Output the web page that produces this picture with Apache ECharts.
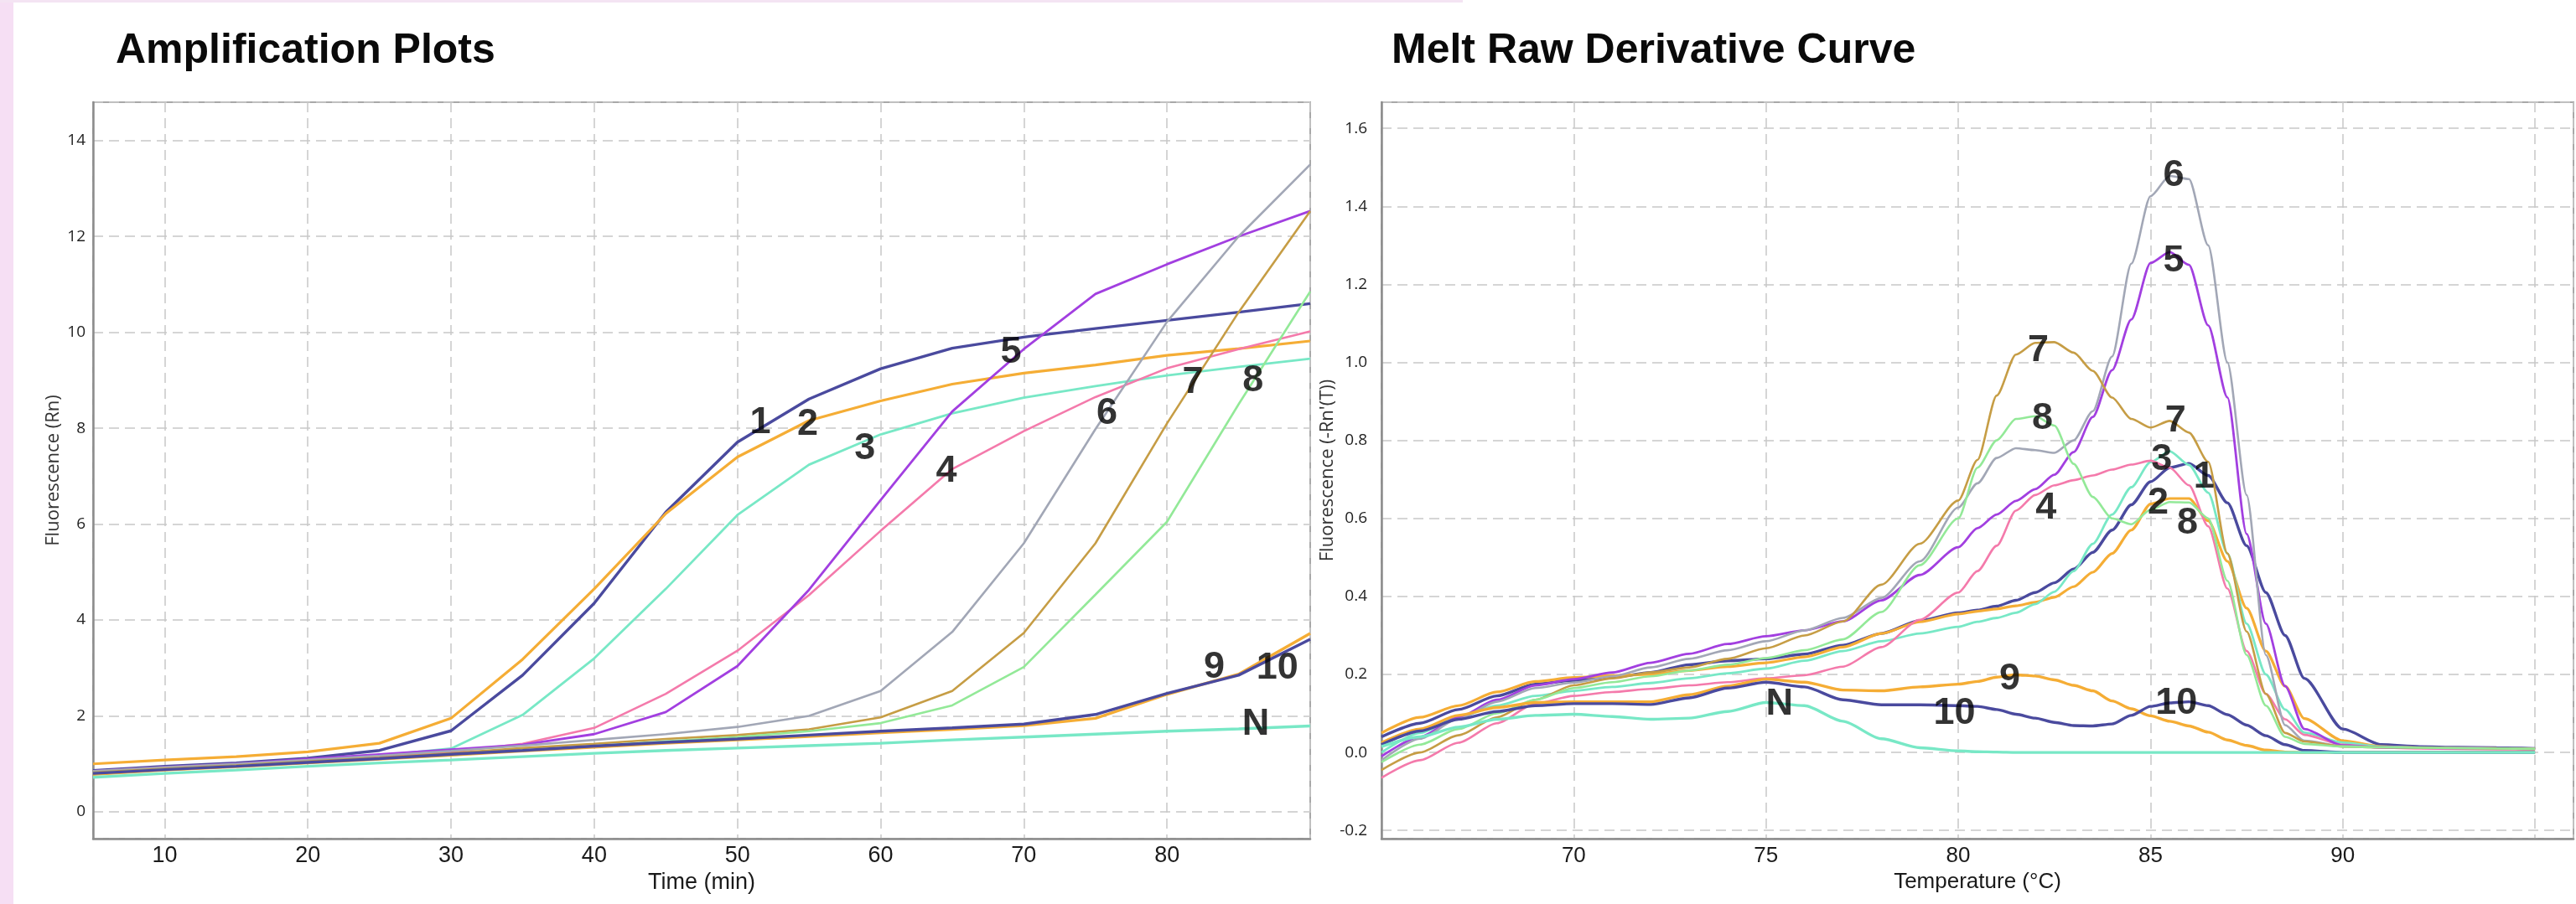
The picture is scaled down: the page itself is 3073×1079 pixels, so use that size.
<!DOCTYPE html>
<html>
<head>
<meta charset="utf-8">
<title>Amplification Plots / Melt Raw Derivative Curve</title>
<script src="https://cdn.jsdelivr.net/npm/echarts@6/dist/echarts.min.js"></script>
<style>
  html, body { margin: 0; padding: 0; background: #fff; }
  #chart { width: 3073px; height: 1079px; }
</style>
</head>
<body>
<div id="chart"></div>
<script>
// ---- amplification plot: time (min) vs fluorescence (Rn) ----
var ampTime = [5, 10, 15, 20, 25, 30, 35, 40, 45, 50, 55, 60, 65, 70, 75, 80, 85, 90];
var amp1  = [0.86, 0.95, 1.02, 1.12, 1.28, 1.69, 2.85, 4.35, 6.25, 7.71, 8.61, 9.24, 9.67, 9.9, 10.08, 10.25, 10.42, 10.6];
var amp2  = [1.0, 1.08, 1.15, 1.25, 1.43, 1.95, 3.18, 4.65, 6.22, 7.4, 8.16, 8.57, 8.92, 9.15, 9.32, 9.52, 9.66, 9.82];
var amp3  = [0.8, 0.9, 0.98, 1.07, 1.17, 1.32, 2.02, 3.2, 4.65, 6.19, 7.24, 7.87, 8.31, 8.64, 8.88, 9.1, 9.28, 9.45];
var amp4  = [0.8, 0.88, 0.96, 1.05, 1.15, 1.25, 1.42, 1.75, 2.46, 3.36, 4.52, 5.86, 7.15, 7.94, 8.65, 9.25, 9.65, 10.02];
var amp5  = [0.85, 0.93, 1.0, 1.1, 1.2, 1.3, 1.4, 1.62, 2.08, 3.04, 4.63, 6.5, 8.35, 9.65, 10.8, 11.42, 12.0, 12.53];
var amp6  = [0.85, 0.93, 1.0, 1.08, 1.17, 1.27, 1.38, 1.5, 1.62, 1.77, 2.0, 2.52, 3.75, 5.6, 7.98, 10.22, 12.0, 13.5];
var amp7  = [0.82, 0.9, 0.97, 1.05, 1.13, 1.22, 1.33, 1.42, 1.52, 1.6, 1.72, 1.97, 2.52, 3.73, 5.6, 8.1, 10.42, 12.53];
var amp8  = [0.8, 0.88, 0.95, 1.03, 1.1, 1.18, 1.28, 1.37, 1.47, 1.56, 1.68, 1.85, 2.22, 3.02, 4.53, 6.05, 8.5, 10.85];
var amp9  = [0.78, 0.87, 0.94, 1.02, 1.1, 1.18, 1.27, 1.35, 1.43, 1.5, 1.57, 1.65, 1.72, 1.8, 1.95, 2.45, 2.87, 3.72];
var amp10 = [0.8, 0.88, 0.95, 1.03, 1.11, 1.2, 1.28, 1.37, 1.45, 1.52, 1.6, 1.68, 1.75, 1.83, 2.03, 2.47, 2.85, 3.6];
var ampN  = [0.72, 0.8, 0.87, 0.95, 1.02, 1.08, 1.15, 1.22, 1.28, 1.33, 1.38, 1.43, 1.5, 1.56, 1.62, 1.68, 1.73, 1.79];

// curve labels on the amplification plot
var ampLabelText = ['1', '2', '3', '4', '5', '6', '7', '8', '9', '10', 'N'];
var ampLabelX = [51.6, 54.9, 58.9, 64.6, 69.1, 75.8, 81.8, 86.0, 83.3, 87.7, 86.2];
var ampLabelY = [8.11, 8.08, 7.57, 7.1, 9.58, 8.31, 8.95, 8.98, 3.02, 3.0, 1.83];

// ---- melt curve: temperature (C) vs -Rn'(T) ----
var meltTemp = [65, 66, 67, 68, 69, 70, 71, 72, 73, 74, 75, 76, 77, 78, 79, 80,
  80.5, 81, 81.5, 82, 82.5, 83, 83.5, 84, 84.5, 85, 85.5, 86, 86.5, 87, 87.5, 88, 88.5, 89,
  90, 91, 92, 93, 94, 95];
var melt1 = [0.04, 0.075, 0.11, 0.145, 0.175, 0.185, 0.192, 0.205, 0.225, 0.235, 0.24, 0.252, 0.275, 0.305, 0.338, 0.358,
  0.365, 0.375, 0.39, 0.41, 0.435, 0.47, 0.513, 0.57, 0.635, 0.694, 0.73, 0.741, 0.71, 0.64, 0.53, 0.41, 0.3, 0.19,
  0.06, 0.02, 0.015, 0.013, 0.012, 0.01];
var melt2 = [0.05, 0.09, 0.12, 0.155, 0.182, 0.192, 0.197, 0.2, 0.21, 0.22, 0.23, 0.245, 0.27, 0.305, 0.335, 0.355,
  0.362, 0.368, 0.376, 0.385, 0.398, 0.425, 0.462, 0.51, 0.57, 0.637, 0.651, 0.651, 0.594, 0.49, 0.37, 0.26, 0.17, 0.087,
  0.03, 0.015, 0.012, 0.011, 0.01, 0.009];
var melt3 = [0.0, 0.05, 0.09, 0.12, 0.145, 0.158, 0.168, 0.178, 0.19, 0.203, 0.215, 0.235, 0.26, 0.285, 0.305, 0.322,
  0.335, 0.345, 0.358, 0.38, 0.412, 0.465, 0.535, 0.61, 0.68, 0.744, 0.772, 0.737, 0.666, 0.51, 0.33, 0.2, 0.11, 0.051,
  0.025, 0.015, 0.012, 0.011, 0.01, 0.009];
var melt4 = [-0.065, -0.02, 0.025, 0.075, 0.125, 0.145, 0.155, 0.163, 0.172, 0.18, 0.19, 0.198, 0.22, 0.27, 0.34, 0.41,
  0.465, 0.53, 0.62, 0.66, 0.685, 0.698, 0.71, 0.725, 0.738, 0.748, 0.73, 0.685, 0.58, 0.42, 0.26, 0.15, 0.085, 0.045,
  0.02, 0.012, 0.01, 0.009, 0.008, 0.007];
var melt5 = [-0.01, 0.04, 0.09, 0.135, 0.172, 0.188, 0.205, 0.23, 0.253, 0.278, 0.298, 0.313, 0.336, 0.39, 0.455, 0.526,
  0.575, 0.61, 0.645, 0.675, 0.712, 0.77, 0.86, 0.98, 1.11, 1.255, 1.283, 1.25, 1.095, 0.91, 0.56, 0.33, 0.17, 0.06,
  0.018, 0.013, 0.012, 0.011, 0.01, 0.009];
var melt6 = [-0.02, 0.035, 0.086, 0.13, 0.165, 0.179, 0.195, 0.218, 0.24, 0.262, 0.285, 0.313, 0.345, 0.396, 0.49, 0.628,
  0.69, 0.755, 0.78, 0.775, 0.768, 0.8, 0.875, 1.015, 1.253, 1.426, 1.478, 1.47, 1.3, 1.0, 0.66, 0.25, 0.07, 0.03,
  0.016, 0.014, 0.013, 0.012, 0.011, 0.01];
var melt7 = [-0.045, 0.0, 0.044, 0.09, 0.135, 0.172, 0.19, 0.205, 0.218, 0.24, 0.267, 0.3, 0.336, 0.43, 0.535, 0.646,
  0.75, 0.915, 1.02, 1.05, 1.052, 1.025, 0.978, 0.91, 0.855, 0.833, 0.85, 0.82, 0.745, 0.51, 0.31, 0.15, 0.05, 0.028,
  0.015, 0.013, 0.012, 0.011, 0.01, 0.009];
var melt8 = [-0.025, 0.02, 0.06, 0.1, 0.135, 0.165, 0.18, 0.195, 0.21, 0.225, 0.242, 0.262, 0.29, 0.36, 0.48, 0.6,
  0.73, 0.8, 0.855, 0.862, 0.838, 0.74, 0.655, 0.6, 0.585, 0.622, 0.642, 0.641, 0.6, 0.44, 0.25, 0.12, 0.04, 0.022,
  0.015, 0.013, 0.012, 0.011, 0.01, 0.009];
var melt9 = [0.025, 0.06, 0.095, 0.115, 0.128, 0.13, 0.13, 0.13, 0.148, 0.17, 0.188, 0.18, 0.16, 0.158, 0.168, 0.175,
  0.182, 0.193, 0.199, 0.196, 0.186, 0.172, 0.158, 0.132, 0.112, 0.094, 0.08, 0.068, 0.052, 0.032, 0.018, 0.006, 0.001, 0.0,
  0, 0, 0, 0, 0, 0];
var melt10 = [0.02, 0.055, 0.085, 0.105, 0.12, 0.125, 0.125, 0.123, 0.14, 0.165, 0.18, 0.168, 0.135, 0.122, 0.122, 0.12,
  0.118, 0.11, 0.098, 0.088, 0.077, 0.069, 0.068, 0.073, 0.095, 0.118, 0.127, 0.13, 0.12, 0.097, 0.07, 0.043, 0.02, 0.005,
  0, 0, 0, 0, 0, 0];
var meltN = [0.015, 0.04, 0.065, 0.085, 0.095, 0.098, 0.092, 0.085, 0.088, 0.105, 0.128, 0.12, 0.08, 0.035, 0.012, 0.004,
  0.002, 0.001, 0, 0, 0, 0, 0, 0, 0, 0, 0, 0, 0, 0, 0, 0, 0, 0,
  0, 0, 0, 0, 0, 0];

var meltLabelText = ['6', '5', '7', '8', '7', '3', '1', '2', '8', '4', '9', '10', '10', 'N'];
var meltLabelX = [85.6, 85.6, 82.08, 82.19, 85.65, 85.29, 86.39, 85.2, 85.96, 82.28, 81.34, 85.67, 79.9, 75.35];
var meltLabelY = [1.479, 1.26, 1.031, 0.855, 0.85, 0.751, 0.705, 0.64, 0.587, 0.626, 0.187, 0.126, 0.10, 0.123];

var sampleNames  = ['1', '2', '3', '4', '5', '6', '7', '8', '9', '10', 'N'];
var sampleColors = ['#4a4a9e', '#f5ad35', '#78e8c6', '#f47aab', '#a23fe0', '#a2a7b6', '#c69d45', '#93e998', '#f5ad35', '#4a4a9e', '#78e8c6'];
var sampleWidths = [3.4, 3.2, 2.8, 2.6, 2.8, 2.6, 2.6, 2.6, 3.4, 3.4, 3.4];

var ampSets  = [amp1, amp2, amp3, amp4, amp5, amp6, amp7, amp8, amp9, amp10, ampN];
var meltSets = [melt1, melt2, melt3, melt4, melt5, melt6, melt7, melt8, melt9, melt10, meltN];

function zip(xs, ys) {
  var out = [];
  for (var i = 0; i < xs.length; i++) out.push([xs[i], ys[i]]);
  return out;
}

function lineSeries(idx, xs, ys, axis, smooth) {
  return {
    name: sampleNames[idx],
    type: 'line',
    xAxisIndex: axis,
    yAxisIndex: axis,
    data: zip(xs, ys),
    showSymbol: false,
    smooth: smooth,
    smoothMonotone: 'x',
    lineStyle: { color: sampleColors[idx], width: sampleWidths[idx] },
    itemStyle: { color: sampleColors[idx] },
    silent: true
  };
}

function labelSeries(axis, xs, ys, texts) {
  var data = [];
  for (var i = 0; i < texts.length; i++) data.push({ name: texts[i], value: [xs[i], ys[i]] });
  return {
    type: 'scatter',
    xAxisIndex: axis,
    yAxisIndex: axis,
    symbolSize: 1,
    itemStyle: { color: 'rgba(0,0,0,0)' },
    z: 10,
    silent: true,
    data: data,
    label: {
      show: true,
      position: 'inside',
      formatter: '{b}',
      fontSize: 45,
      fontWeight: 'bold',
      fontFamily: 'Liberation Sans',
      color: '#000'
    }
  };
}

var series = [];
for (var i = 0; i < ampSets.length; i++) series.push(lineSeries(i, ampTime, ampSets[i], 0, false));
for (var j = 0; j < meltSets.length; j++) series.push(lineSeries(j, meltTemp, meltSets[j], 1, 0.25));
series.push(labelSeries(0, ampLabelX, ampLabelY, ampLabelText));
series.push(labelSeries(1, meltLabelX, meltLabelY, meltLabelText));

var axisLineStyle = { color: '#8c8c8c', width: 2.5 };
var gridLineStyle = { type: [12, 7], color: '#c8c8c8', width: 1.5 };

function near(v, step) {
  return Math.abs(v - Math.round(v / step) * step) < 1e-6;
}

var chart = echarts.init(document.getElementById('chart'));
chart.setOption({
  animation: false,
  backgroundColor: '#ffffff',
  title: [
    { text: 'Amplification Plots', left: 133, top: 31,
      textStyle: { fontSize: 50, fontWeight: 'bold', fontFamily: 'Liberation Sans', color: '#0a0a0a' } },
    { text: 'Melt Raw Derivative Curve', left: 1655, top: 31,
      textStyle: { fontSize: 50, fontWeight: 'bold', fontFamily: 'Liberation Sans', color: '#0a0a0a' } }
  ],
  graphic: [
    { type: 'rect', left: 0, top: 0, shape: { width: 16, height: 1079 }, style: { fill: '#f6dff4' }, silent: true },
    { type: 'rect', left: 0, top: 0, shape: { width: 1745, height: 3 }, style: { fill: '#f4e4f3' }, silent: true }
  ],
  grid: [
    { left: 111, top: 122, width: 1452, height: 879, show: true, borderColor: '#a8a8a8', borderWidth: 2 },
    { left: 1648, top: 122, width: 1482, height: 879, show: true, borderColor: '#a8a8a8', borderWidth: 2 }
  ],
  xAxis: [
    {
      type: 'value', gridIndex: 0, min: 5, max: 90, splitNumber: 8,
      name: 'Time (min)', nameLocation: 'middle', nameGap: 37,
      nameTextStyle: { fontSize: 27, fontFamily: 'Liberation Sans', color: '#1a1a1a' },
      axisLine: { show: true, onZero: false, lineStyle: axisLineStyle },
      axisTick: { show: false },
      axisLabel: {
        fontSize: 27, fontFamily: 'Liberation Sans', color: '#1a1a1a', margin: 7,
        formatter: function (v) { return (near(v, 10) && v >= 10 && v <= 80) ? String(v) : ''; }
      },
      splitLine: { show: true, lineStyle: gridLineStyle }
    },
    {
      type: 'value', gridIndex: 1, min: 65, max: 96, splitNumber: 6,
      name: 'Temperature (°C)', nameLocation: 'middle', nameGap: 37,
      nameTextStyle: { fontSize: 26, fontFamily: 'Liberation Sans', color: '#1a1a1a' },
      axisLine: { show: true, onZero: false, lineStyle: axisLineStyle },
      axisTick: { show: false },
      axisLabel: {
        fontSize: 26, fontFamily: 'Liberation Sans', color: '#1a1a1a', margin: 8,
        formatter: function (v) { return (near(v, 5) && v >= 70 && v <= 90) ? String(v) : ''; }
      },
      splitLine: { show: true, lineStyle: gridLineStyle }
    }
  ],
  yAxis: [
    {
      type: 'value', gridIndex: 0, min: -0.56, max: 14.8, splitNumber: 8,
      name: 'Fluorescence (Rn)', nameLocation: 'middle', nameGap: 36,
      nameTextStyle: { fontSize: 22, fontFamily: 'Open Sans', color: '#333' },
      axisLine: { show: true, onZero: false, lineStyle: axisLineStyle },
      axisTick: { show: false },
      axisLabel: {
        fontSize: 19, fontFamily: 'Open Sans', color: '#222', margin: 9,
        formatter: function (v) { return (near(v, 2) && v >= 0 && v <= 14) ? String(Math.round(v)) : ''; }
      },
      splitLine: { show: true, lineStyle: gridLineStyle }
    },
    {
      type: 'value', gridIndex: 1, min: -0.221, max: 1.667, splitNumber: 9,
      name: "Fluorescence (-Rn'(T))", nameLocation: 'middle', nameGap: 49,
      nameTextStyle: { fontSize: 22, fontFamily: 'Open Sans', color: '#333' },
      axisLine: { show: true, onZero: false, lineStyle: axisLineStyle },
      axisTick: { show: false },
      axisLabel: {
        fontSize: 19, fontFamily: 'Open Sans', color: '#222', margin: 17,
        formatter: function (v) { return (near(v, 0.2) && v >= -0.2001 && v <= 1.6001) ? v.toFixed(1) : ''; }
      },
      splitLine: { show: true, lineStyle: gridLineStyle }
    }
  ],
  series: series
});
</script>
</body>
</html>
